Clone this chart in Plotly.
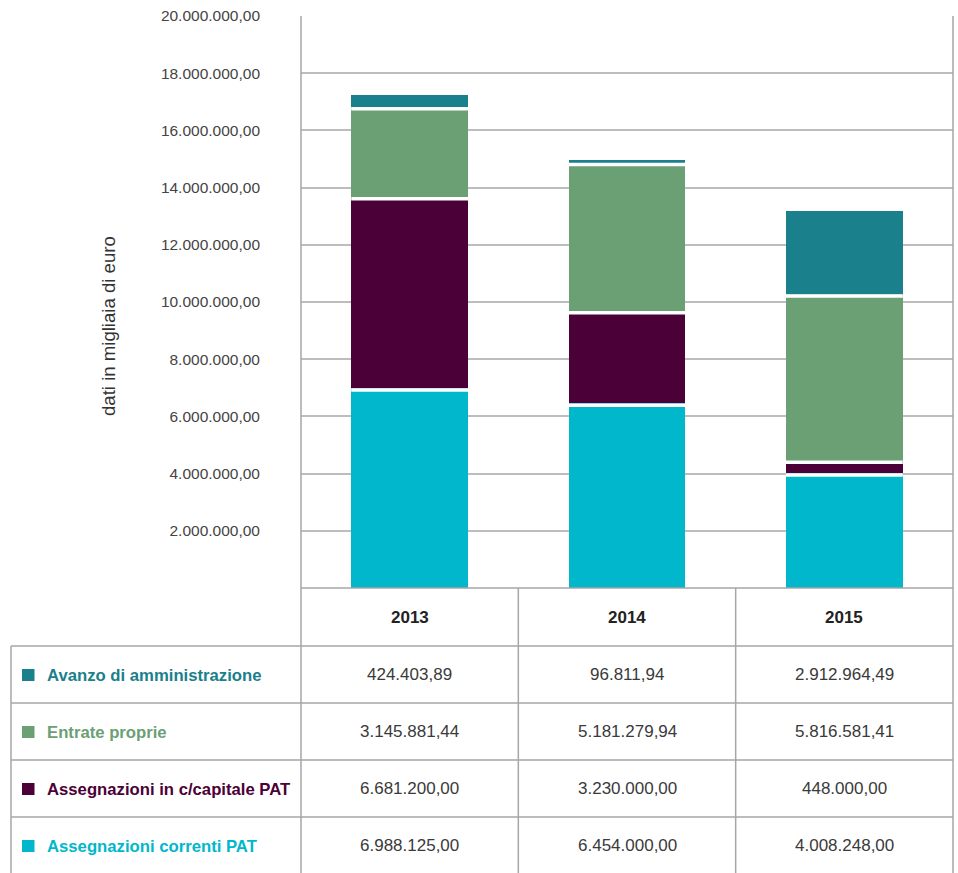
import plotly.graph_objects as go

categories = ["2013", "2014", "2015"]
avanzo = [424403.89, 96811.94, 2912964.49]
entrate = [3145881.44, 5181279.94, 5816581.41]
capitale = [6681200.00, 3230000.00, 448000.00]
correnti = [6988125.00, 6454000.00, 4008248.00]

series_names = ["Avanzo di amministrazione", "Entrate proprie",
                "Assegnazioni in c/capitale PAT", "Assegnazioni correnti PAT"]
series_values = [avanzo, entrate, capitale, correnti]
series_colors = ["#1a808c", "#6ba074", "#4b0037", "#00b7cc"]

tick_vals = [2000000, 4000000, 6000000, 8000000, 10000000,
             12000000, 14000000, 16000000, 18000000, 20000000]
y_title = "dati in migliaia di euro"


def it_fmt(v):
    s = f"{v:,.2f}"
    return s.replace(",", "X").replace(".", ",").replace("X", ".")


W, H = 958, 873
L, R, T, B = 301, 5, 16, 285
PW, PH = W - L - R, H - T - B
BASE = T + PH  # pixel y of zero
BAR_W = 0.538
GAP_PX = 3.5


def px(xp):
    return (xp - L) / PW


def py(yp):
    return (BASE - yp) / PH


idx = list(range(len(categories)))

fig = go.Figure()
# stacked bottom-up: correnti, capitale, entrate, avanzo
stack_order = list(reversed(list(zip(series_names, series_values, series_colors))))
for name, vals, col in stack_order:
    fig.add_trace(go.Bar(
        x=idx, y=vals, name=name,
        marker=dict(color=col, line=dict(width=0)),
        width=BAR_W, hoverinfo="name+y",
    ))

grid = "#bdbdbd"
line_c = "#a6a6a6"

fig.update_layout(
    width=W, height=H, barmode="stack", showlegend=False,
    margin=dict(l=L, r=R, t=T, b=B, autoexpand=False),
    paper_bgcolor="white", plot_bgcolor="white",
    font=dict(family="Liberation Sans, Arial, sans-serif", color="#444"),
    xaxis=dict(type="linear", range=[-0.5, 2.5], showticklabels=False, showgrid=False,
               zeroline=False, showline=False, fixedrange=True),
    yaxis=dict(range=[0, 20000000], tickvals=tick_vals,
               ticktext=[it_fmt(v) for v in tick_vals],
               tickfont=dict(size=15.5, color="#444"),
               showgrid=True, gridcolor=grid, gridwidth=1.5,
               zeroline=False, showline=False, ticks="",
               ticklabelstandoff=40, automargin=False, fixedrange=True),
)

shapes = []

# white separators between stacked segments (placed in the top of the lower segment)
for i in idx:
    cum = 0.0
    for k, (name, vals, col) in enumerate(stack_order[:-1]):
        cum += vals[i]
        shapes.append(dict(type="rect", xref="x", yref="y",
                           x0=i - BAR_W / 2, x1=i + BAR_W / 2,
                           ysizemode="pixel", yanchor=cum, y0=0, y1=-GAP_PX,
                           fillcolor="white", line=dict(width=0), layer="above"))


def hline(yp, x0, x1):
    shapes.append(dict(type="line", xref="paper", yref="paper",
                       x0=px(x0), x1=px(x1), y0=py(yp), y1=py(yp),
                       line=dict(color=line_c, width=1.5)))


def vline_paper(xp, y0, y1):
    shapes.append(dict(type="line", xref="paper", yref="paper",
                       x0=px(xp), x1=px(xp), y0=py(y0), y1=py(y1),
                       line=dict(color=line_c, width=1.5)))


# plot frame
vline_paper(L, T, H + 2)
vline_paper(L + PW, T, H + 2)
hline(BASE, L, L + PW)
# table horizontal lines
row_tops = [646, 703, 760, 817]
for rt in row_tops:
    hline(rt, 11, L + PW)
vline_paper(11, 646, H + 2)
# column dividers at category boundaries
for xb in [0.5, 1.5]:
    shapes.append(dict(type="line", xref="x", yref="paper", x0=xb, x1=xb,
                       y0=py(BASE), y1=py(H + 2),
                       line=dict(color=line_c, width=1.5)))

annotations = []
# header years
for i, c in zip(idx, categories):
    annotations.append(dict(x=i, xref="x", y=py(617), yref="paper", text=f"<b>{c}</b>",
                            showarrow=False, font=dict(size=17, color="#222"),
                            xanchor="center", yanchor="middle"))

row_h = 57
for r, (name, vals, col) in enumerate(zip(series_names, series_values, series_colors)):
    yc = row_tops[r] + row_h / 2
    shapes.append(dict(type="rect", xref="paper", yref="paper",
                       x0=px(22), x1=px(34.5), y0=py(yc - 5.5), y1=py(yc + 6.5),
                       fillcolor=col, line=dict(width=0)))
    annotations.append(dict(x=px(44.5), xref="paper", y=py(yc + 0.5), yref="paper",
                            text=f"<b>{name}</b>", showarrow=False,
                            font=dict(size=16.7, color=col),
                            xanchor="left", yanchor="middle"))
    for i, v in zip(idx, vals):
        annotations.append(dict(x=i, xref="x", y=py(yc), yref="paper",
                                text=it_fmt(v), showarrow=False,
                                font=dict(size=17, color="#3a3a3a"),
                                xanchor="center", yanchor="middle"))

annotations.append(dict(x=px(108), xref="paper", y=py(326), yref="paper",
                        text=y_title, textangle=-90, showarrow=False,
                        font=dict(size=18.6, color="#333"),
                        xanchor="center", yanchor="middle"))

fig.update_layout(shapes=shapes, annotations=annotations)
fig.write_html("out.html", config={"displayModeBar": False},
               post_script="document.body.style.margin='0';document.body.style.padding='0';"
                           "document.body.style.overflow='hidden';")
